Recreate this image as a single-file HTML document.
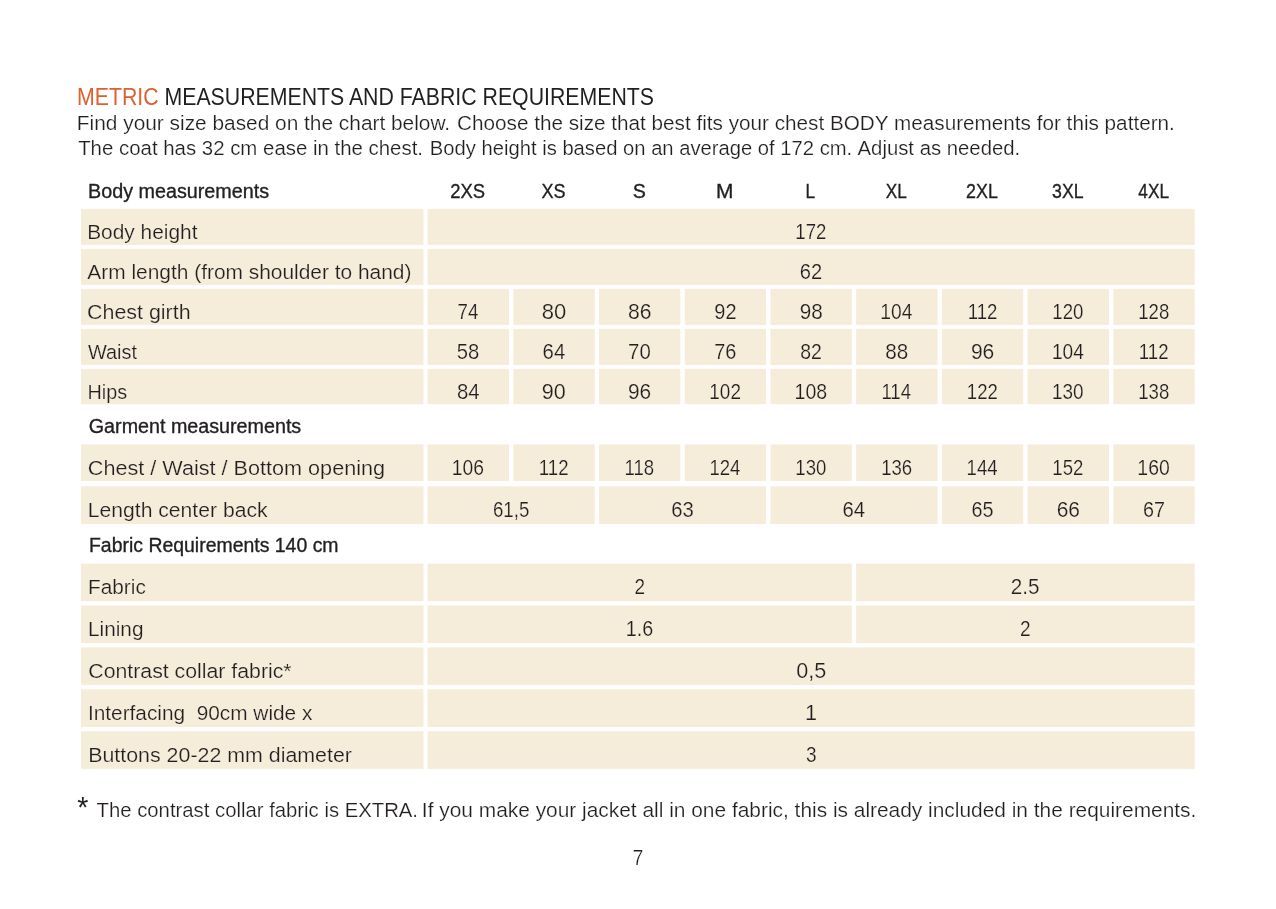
<!DOCTYPE html>
<html lang="en"><head><meta charset="utf-8"><title>Metric measurements and fabric requirements</title>
<style>
html,body{margin:0;padding:0;background:#fff}
#pg{position:relative;width:1276px;height:909px;overflow:hidden;background:#fff;font-family:"Liberation Sans",sans-serif;color:#231f20}
#pg svg{position:absolute;left:0;top:0}
p{margin:0}
.t{position:absolute;left:0;display:block;white-space:pre;line-height:1;margin:0;padding:0;font-weight:400;transform-origin:0 0}
.b{-webkit-text-stroke:0.35px #231f20}
.w{-webkit-text-stroke:0.2px #fff}
.g{-webkit-text-stroke:0.2px #f5ecda}
</style></head><body><div id="pg">
<svg width="1276" height="909" viewBox="0 0 1276 909"><g fill="#f5ecda">
<rect x="81.00" y="208.90" width="342.45" height="36.00"/>
<rect x="427.60" y="208.90" width="767.04" height="36.00"/>
<rect x="81.00" y="248.90" width="342.45" height="36.00"/>
<rect x="427.60" y="248.90" width="767.04" height="36.00"/>
<rect x="81.00" y="288.90" width="342.45" height="36.00"/>
<rect x="427.60" y="288.90" width="81.36" height="36.00"/>
<rect x="513.31" y="288.90" width="81.36" height="36.00"/>
<rect x="599.02" y="288.90" width="81.36" height="36.00"/>
<rect x="684.73" y="288.90" width="81.36" height="36.00"/>
<rect x="770.44" y="288.90" width="81.36" height="36.00"/>
<rect x="856.15" y="288.90" width="81.36" height="36.00"/>
<rect x="941.86" y="288.90" width="81.36" height="36.00"/>
<rect x="1027.57" y="288.90" width="81.36" height="36.00"/>
<rect x="1113.28" y="288.90" width="81.36" height="36.00"/>
<rect x="81.00" y="328.90" width="342.45" height="36.00"/>
<rect x="427.60" y="328.90" width="81.36" height="36.00"/>
<rect x="513.31" y="328.90" width="81.36" height="36.00"/>
<rect x="599.02" y="328.90" width="81.36" height="36.00"/>
<rect x="684.73" y="328.90" width="81.36" height="36.00"/>
<rect x="770.44" y="328.90" width="81.36" height="36.00"/>
<rect x="856.15" y="328.90" width="81.36" height="36.00"/>
<rect x="941.86" y="328.90" width="81.36" height="36.00"/>
<rect x="1027.57" y="328.90" width="81.36" height="36.00"/>
<rect x="1113.28" y="328.90" width="81.36" height="36.00"/>
<rect x="81.00" y="368.90" width="342.45" height="35.30"/>
<rect x="427.60" y="368.90" width="81.36" height="35.30"/>
<rect x="513.31" y="368.90" width="81.36" height="35.30"/>
<rect x="599.02" y="368.90" width="81.36" height="35.30"/>
<rect x="684.73" y="368.90" width="81.36" height="35.30"/>
<rect x="770.44" y="368.90" width="81.36" height="35.30"/>
<rect x="856.15" y="368.90" width="81.36" height="35.30"/>
<rect x="941.86" y="368.90" width="81.36" height="35.30"/>
<rect x="1027.57" y="368.90" width="81.36" height="35.30"/>
<rect x="1113.28" y="368.90" width="81.36" height="35.30"/>
<rect x="81.00" y="444.40" width="342.45" height="36.60"/>
<rect x="427.60" y="444.40" width="81.36" height="36.60"/>
<rect x="513.31" y="444.40" width="81.36" height="36.60"/>
<rect x="599.02" y="444.40" width="81.36" height="36.60"/>
<rect x="684.73" y="444.40" width="81.36" height="36.60"/>
<rect x="770.44" y="444.40" width="81.36" height="36.60"/>
<rect x="856.15" y="444.40" width="81.36" height="36.60"/>
<rect x="941.86" y="444.40" width="81.36" height="36.60"/>
<rect x="1027.57" y="444.40" width="81.36" height="36.60"/>
<rect x="1113.28" y="444.40" width="81.36" height="36.60"/>
<rect x="81.00" y="486.30" width="342.45" height="37.70"/>
<rect x="427.60" y="486.30" width="167.07" height="37.70"/>
<rect x="599.02" y="486.30" width="167.07" height="37.70"/>
<rect x="770.44" y="486.30" width="167.07" height="37.70"/>
<rect x="941.86" y="486.30" width="81.36" height="37.70"/>
<rect x="1027.57" y="486.30" width="81.36" height="37.70"/>
<rect x="1113.28" y="486.30" width="81.36" height="37.70"/>
<rect x="81.00" y="563.55" width="342.45" height="37.60"/>
<rect x="427.60" y="563.55" width="424.20" height="37.60"/>
<rect x="856.15" y="563.55" width="338.49" height="37.60"/>
<rect x="81.00" y="605.49" width="342.45" height="37.60"/>
<rect x="427.60" y="605.49" width="424.20" height="37.60"/>
<rect x="856.15" y="605.49" width="338.49" height="37.60"/>
<rect x="81.00" y="647.43" width="342.45" height="37.60"/>
<rect x="427.60" y="647.43" width="767.04" height="37.60"/>
<rect x="81.00" y="689.37" width="342.45" height="37.60"/>
<rect x="427.60" y="689.37" width="767.04" height="37.60"/>
<rect x="81.00" y="731.31" width="342.45" height="37.60"/>
<rect x="427.60" y="731.31" width="767.04" height="37.60"/>
</g></svg>
<h1 class="t" style="top:85px;font-size:24.70px;transform:translateX(77.01px) scaleX(0.8619)"><span style="color:#df5f2d">METRIC</span> MEASUREMENTS AND FABRIC REQUIREMENTS</h1>
<p><span class="t w" style="top:113px;font-size:20.00px;transform:translateX(76.84px) scaleX(1.0428)">Find your size based on the chart below. </span><span class="t w" style="top:113px;font-size:20.00px;transform:translateX(457.05px) scaleX(1.0353)">Choose the size that best fits your chest BODY measurements for this pattern.</span></p>
<p><span class="t w" style="top:138px;font-size:20.00px;transform:translateX(78.16px) scaleX(1.0203)">The coat has 32 cm ease in the chest. </span><span class="t w" style="top:138px;font-size:20.00px;transform:translateX(429.85px) scaleX(1.0102)">Body height is based on an average of 172 cm. </span><span class="t w" style="top:138px;font-size:20.00px;transform:translateX(857.53px) scaleX(1.0159)">Adjust as needed.</span></p>
<div role="table" aria-label="Metric measurements and fabric requirements">
<div role="row">
<span class="t b" role="columnheader" style="top:181px;font-size:20.00px;transform:translateX(88.03px) scaleX(0.9872)">Body measurements</span>
<span class="t b" role="columnheader" style="top:181px;font-size:20.00px;transform:translateX(467.73px) scaleX(0.9203) translateX(-50%)">2XS</span>
<span class="t b" role="columnheader" style="top:181px;font-size:20.00px;transform:translateX(553.49px) scaleX(0.9018) translateX(-50%)">XS</span>
<span class="t b" role="columnheader" style="top:181px;font-size:20.00px;transform:translateX(639.19px) scaleX(0.9797) translateX(-50%)">S</span>
<span class="t b" role="columnheader" style="top:181px;font-size:20.00px;transform:translateX(724.80px) scaleX(1.0462) translateX(-50%)">M</span>
<span class="t b" role="columnheader" style="top:181px;font-size:20.00px;transform:translateX(810.36px) scaleX(0.8600) translateX(-50%)">L</span>
<span class="t b" role="columnheader" style="top:181px;font-size:20.00px;transform:translateX(896.26px) scaleX(0.8600) translateX(-50%)">XL</span>
<span class="t b" role="columnheader" style="top:181px;font-size:20.00px;transform:translateX(981.96px) scaleX(0.8910) translateX(-50%)">2XL</span>
<span class="t b" role="columnheader" style="top:181px;font-size:20.00px;transform:translateX(1067.79px) scaleX(0.8842) translateX(-50%)">3XL</span>
<span class="t b" role="columnheader" style="top:181px;font-size:20.00px;transform:translateX(1153.67px) scaleX(0.8600) translateX(-50%)">4XL</span>
</div>
<div role="row">
<span class="t g" role="rowheader" style="top:222px;font-size:20.00px;transform:translateX(87.15px) scaleX(1.0441)">Body height</span>
<span class="t g" role="cell" style="top:221px;font-size:21.60px;transform:translateX(810.85px) scaleX(0.8600) translateX(-50%)">172</span>
</div>
<div role="row">
<span class="t g" role="rowheader" style="top:262px;font-size:20.00px;transform:translateX(87.31px) scaleX(1.0451)">Arm length (from shoulder to hand)</span>
<span class="t g" role="cell" style="top:261px;font-size:21.60px;transform:translateX(811.06px) scaleX(0.9314) translateX(-50%)">62</span>
</div>
<div role="row">
<span class="t g" role="rowheader" style="top:302px;font-size:20.00px;transform:translateX(87.09px) scaleX(1.0704)">Chest girth</span>
<span class="t g" role="cell" style="top:301px;font-size:21.60px;transform:translateX(468.02px) scaleX(0.8666) translateX(-50%)">74</span>
<span class="t g" role="cell" style="top:301px;font-size:21.60px;transform:translateX(553.89px) scaleX(1.0198) translateX(-50%)">80</span>
<span class="t g" role="cell" style="top:301px;font-size:21.60px;transform:translateX(639.78px) scaleX(0.9775) translateX(-50%)">86</span>
<span class="t g" role="cell" style="top:301px;font-size:21.60px;transform:translateX(725.46px) scaleX(0.9246) translateX(-50%)">92</span>
<span class="t g" role="cell" style="top:301px;font-size:21.60px;transform:translateX(811.20px) scaleX(0.9580) translateX(-50%)">98</span>
<span class="t g" role="cell" style="top:301px;font-size:21.60px;transform:translateX(896.33px) scaleX(0.8909) translateX(-50%)">104</span>
<span class="t g" role="cell" style="top:301px;font-size:21.60px;transform:translateX(982.51px) scaleX(0.8600) translateX(-50%)">112</span>
<span class="t g" role="cell" style="top:301px;font-size:21.60px;transform:translateX(1067.86px) scaleX(0.8626) translateX(-50%)">120</span>
<span class="t g" role="cell" style="top:301px;font-size:21.60px;transform:translateX(1153.75px) scaleX(0.8600) translateX(-50%)">128</span>
</div>
<div role="row">
<span class="t g" role="rowheader" style="top:342px;font-size:20.00px;transform:translateX(87.98px) scaleX(0.9949)">Waist</span>
<span class="t g" role="cell" style="top:341px;font-size:21.60px;transform:translateX(468.01px) scaleX(0.9364) translateX(-50%)">58</span>
<span class="t g" role="cell" style="top:341px;font-size:21.60px;transform:translateX(553.95px) scaleX(0.9426) translateX(-50%)">64</span>
<span class="t g" role="cell" style="top:341px;font-size:21.60px;transform:translateX(639.45px) scaleX(0.9439) translateX(-50%)">70</span>
<span class="t g" role="cell" style="top:341px;font-size:21.60px;transform:translateX(725.38px) scaleX(0.9218) translateX(-50%)">76</span>
<span class="t g" role="cell" style="top:341px;font-size:21.60px;transform:translateX(810.99px) scaleX(0.8998) translateX(-50%)">82</span>
<span class="t g" role="cell" style="top:341px;font-size:21.60px;transform:translateX(896.64px) scaleX(0.9549) translateX(-50%)">88</span>
<span class="t g" role="cell" style="top:341px;font-size:21.60px;transform:translateX(982.58px) scaleX(0.9725) translateX(-50%)">96</span>
<span class="t g" role="cell" style="top:341px;font-size:21.60px;transform:translateX(1067.84px) scaleX(0.8861) translateX(-50%)">104</span>
<span class="t g" role="cell" style="top:341px;font-size:21.60px;transform:translateX(1153.67px) scaleX(0.8600) translateX(-50%)">112</span>
</div>
<div role="row">
<span class="t g" role="rowheader" style="top:382px;font-size:20.00px;transform:translateX(87.47px) scaleX(0.9898)">Hips</span>
<span class="t g" role="cell" style="top:381px;font-size:21.60px;transform:translateX(468.34px) scaleX(0.9426) translateX(-50%)">84</span>
<span class="t g" role="cell" style="top:381px;font-size:21.60px;transform:translateX(553.85px) scaleX(0.9982) translateX(-50%)">90</span>
<span class="t g" role="cell" style="top:381px;font-size:21.60px;transform:translateX(639.52px) scaleX(0.9652) translateX(-50%)">96</span>
<span class="t g" role="cell" style="top:381px;font-size:21.60px;transform:translateX(725.13px) scaleX(0.8767) translateX(-50%)">102</span>
<span class="t g" role="cell" style="top:381px;font-size:21.60px;transform:translateX(810.82px) scaleX(0.9033) translateX(-50%)">108</span>
<span class="t g" role="cell" style="top:381px;font-size:21.60px;transform:translateX(896.19px) scaleX(0.8600) translateX(-50%)">114</span>
<span class="t g" role="cell" style="top:381px;font-size:21.60px;transform:translateX(982.35px) scaleX(0.8600) translateX(-50%)">122</span>
<span class="t g" role="cell" style="top:381px;font-size:21.60px;transform:translateX(1067.80px) scaleX(0.8755) translateX(-50%)">130</span>
<span class="t g" role="cell" style="top:381px;font-size:21.60px;transform:translateX(1153.75px) scaleX(0.8600) translateX(-50%)">138</span>
</div>
<div role="row">
<span class="t b" role="columnheader" style="top:416px;font-size:20.00px;transform:translateX(88.80px) scaleX(0.9851)">Garment measurements</span>
</div>
<div role="row">
<span class="t g" role="rowheader" style="top:458px;font-size:20.00px;transform:translateX(87.80px) scaleX(1.0811)">Chest / Waist / Bottom opening</span>
<span class="t g" role="cell" style="top:457px;font-size:21.60px;transform:translateX(467.94px) scaleX(0.8934) translateX(-50%)">106</span>
<span class="t g" role="cell" style="top:457px;font-size:21.60px;transform:translateX(553.68px) scaleX(0.8600) translateX(-50%)">112</span>
<span class="t g" role="cell" style="top:457px;font-size:21.60px;transform:translateX(639.25px) scaleX(0.8600) translateX(-50%)">118</span>
<span class="t g" role="cell" style="top:457px;font-size:21.60px;transform:translateX(724.93px) scaleX(0.8600) translateX(-50%)">124</span>
<span class="t g" role="cell" style="top:457px;font-size:21.60px;transform:translateX(810.82px) scaleX(0.8607) translateX(-50%)">130</span>
<span class="t g" role="cell" style="top:457px;font-size:21.60px;transform:translateX(896.68px) scaleX(0.8600) translateX(-50%)">136</span>
<span class="t g" role="cell" style="top:457px;font-size:21.60px;transform:translateX(982.11px) scaleX(0.8600) translateX(-50%)">144</span>
<span class="t g" role="cell" style="top:457px;font-size:21.60px;transform:translateX(1067.85px) scaleX(0.8600) translateX(-50%)">152</span>
<span class="t g" role="cell" style="top:457px;font-size:21.60px;transform:translateX(1153.55px) scaleX(0.8988) translateX(-50%)">160</span>
</div>
<div role="row">
<span class="t g" role="rowheader" style="top:500px;font-size:20.00px;transform:translateX(87.78px) scaleX(1.0566)">Length center back</span>
<span class="t g" role="cell" style="top:499px;font-size:21.60px;transform:translateX(511.16px) scaleX(0.8663) translateX(-50%)">61,5</span>
<span class="t g" role="cell" style="top:499px;font-size:21.60px;transform:translateX(682.40px) scaleX(0.9379) translateX(-50%)">63</span>
<span class="t g" role="cell" style="top:499px;font-size:21.60px;transform:translateX(853.74px) scaleX(0.9401) translateX(-50%)">64</span>
<span class="t g" role="cell" style="top:499px;font-size:21.60px;transform:translateX(982.53px) scaleX(0.9186) translateX(-50%)">65</span>
<span class="t g" role="cell" style="top:499px;font-size:21.60px;transform:translateX(1068.31px) scaleX(0.9698) translateX(-50%)">66</span>
<span class="t g" role="cell" style="top:499px;font-size:21.60px;transform:translateX(1153.94px) scaleX(0.9153) translateX(-50%)">67</span>
</div>
<div role="row">
<span class="t b" role="columnheader" style="top:535px;font-size:20.00px;transform:translateX(88.96px) scaleX(0.9721)">Fabric Requirements 140 cm</span>
</div>
<div role="row">
<span class="t g" role="rowheader" style="top:577px;font-size:20.00px;transform:translateX(88.02px) scaleX(1.0399)">Fabric</span>
<span class="t g" role="cell" style="top:576px;font-size:21.60px;transform:translateX(639.89px) scaleX(0.8776) translateX(-50%)">2</span>
<span class="t g" role="cell" style="top:576px;font-size:21.60px;transform:translateX(1025.24px) scaleX(0.9581) translateX(-50%)">2.5</span>
</div>
<div role="row">
<span class="t g" role="rowheader" style="top:619px;font-size:20.00px;transform:translateX(88.07px) scaleX(1.0376)">Lining</span>
<span class="t g" role="cell" style="top:618px;font-size:21.60px;transform:translateX(639.39px) scaleX(0.9140) translateX(-50%)">1.6</span>
<span class="t g" role="cell" style="top:618px;font-size:21.60px;transform:translateX(1025.31px) scaleX(0.8826) translateX(-50%)">2</span>
</div>
<div role="row">
<span class="t g" role="rowheader" style="top:661px;font-size:20.00px;transform:translateX(88.32px) scaleX(1.0634)">Contrast collar fabric*</span>
<span class="t g" role="cell" style="top:660px;font-size:21.60px;transform:translateX(811.15px) scaleX(0.9996) translateX(-50%)">0,5</span>
</div>
<div role="row">
<span class="t g" role="rowheader" style="top:703px;font-size:20.00px;transform:translateX(87.91px) scaleX(1.0407)">Interfacing  90cm wide x</span>
<span class="t g" role="cell" style="top:702px;font-size:21.60px;transform:translateX(811.10px) scaleX(1.0000) translateX(-50%)">1</span>
</div>
<div role="row">
<span class="t g" role="rowheader" style="top:745px;font-size:20.00px;transform:translateX(88.19px) scaleX(1.0688)">Buttons 20-22 mm diameter</span>
<span class="t g" role="cell" style="top:744px;font-size:21.60px;transform:translateX(811.36px) scaleX(0.8792) translateX(-50%)">3</span>
</div>
</div>
<p class="note"><span class="t" style="top:792px;font-size:30.00px;transform:translateX(77.35px) scaleX(0.9519)">*</span><span class="t w" style="top:800px;font-size:20.20px;transform:translateX(96.59px) scaleX(1.0051)">The contrast collar fabric is EXTRA. </span><span class="t w" style="top:800px;font-size:20.20px;transform:translateX(421.87px) scaleX(1.0348)">If you make your jacket all in one fabric, this is already included in the requirements.</span></p>
<div class="t w" style="top:847px;font-size:22.00px;transform:translateX(638.13px) scaleX(0.8600) translateX(-50%)">7</div>
</div></body></html>
